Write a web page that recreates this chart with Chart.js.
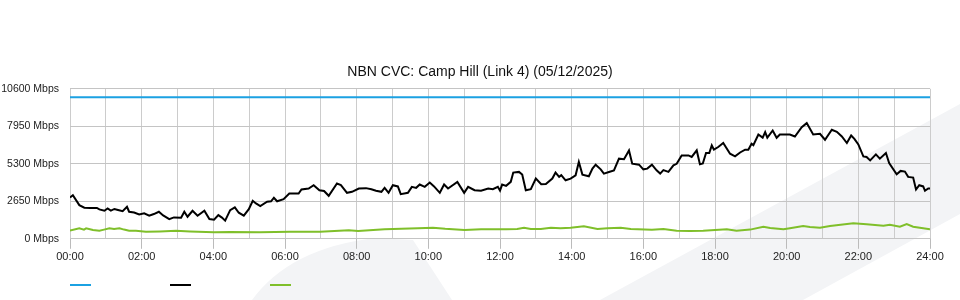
<!DOCTYPE html>
<html>
<head>
<meta charset="utf-8">
<script src="https://cdn.jsdelivr.net/npm/chart.js@4"></script>
<style>
  html, body { margin: 0; padding: 0; background: #fff; }
  #wrap { width: 960px; height: 300px; }
</style>
</head>
<body>
<div id="wrap"><canvas id="cvcChart"></canvas></div>
<script>
  // capacity of the link
  const capacityTimes = [0, 24];
  const capacityMbps = [10000, 10000];

  // black series (hours of day, Mbps)
  const downTimes = [0, 0.08, 0.26, 0.40, 0.56, 0.75, 0.82, 0.96, 1.05, 1.14, 1.24, 1.34, 1.47, 1.59, 1.65,
    1.79, 1.93, 2.07, 2.21, 2.34, 2.48, 2.60, 2.77, 2.90, 3.10, 3.19, 3.28, 3.42, 3.56, 3.75, 3.89,
    4.02, 4.14, 4.24, 4.33, 4.47, 4.60, 4.71, 4.85, 4.99, 5.10, 5.19, 5.31, 5.50, 5.61, 5.69, 5.78,
    5.96, 6.12, 6.38, 6.46, 6.66, 6.80, 6.96, 7.09, 7.22, 7.45, 7.56, 7.73, 7.87, 8.06, 8.26, 8.41,
    8.54, 8.69, 8.78, 8.89, 9.01, 9.15, 9.23, 9.43, 9.54, 9.66, 9.76, 9.90, 10.04, 10.16, 10.32,
    10.44, 10.55, 10.81, 11.00, 11.11, 11.29, 11.47, 11.67, 11.80, 11.94, 12.00, 12.06, 12.17,
    12.30, 12.37, 12.53, 12.62, 12.72, 12.86, 13.00, 13.15, 13.28, 13.46, 13.55, 13.65, 13.71,
    13.83, 13.97, 14.11, 14.20, 14.30, 14.48, 14.58, 14.67, 14.81, 14.90, 15.04, 15.18, 15.32,
    15.46, 15.60, 15.69, 15.88, 16.00, 16.11, 16.24, 16.37, 16.47, 16.56, 16.70, 16.84, 16.93,
    17.07, 17.26, 17.35, 17.49, 17.58, 17.66, 17.75, 17.84, 17.91, 17.97, 18.09, 18.23, 18.42,
    18.56, 18.70, 18.84, 18.93, 19.02, 19.07, 19.21, 19.33, 19.40, 19.46, 19.61, 19.72, 19.81,
    19.91, 20.09, 20.23, 20.42, 20.56, 20.74, 20.93, 21.07, 21.26, 21.40, 21.54, 21.68, 21.80,
    21.89, 22.00, 22.14, 22.23, 22.33, 22.49, 22.60, 22.77, 22.86, 23.07, 23.18, 23.30, 23.39,
    23.53, 23.61, 23.70, 23.81, 23.86, 23.95, 24.00];
  const downMbps = [2919, 3080, 2378, 2195, 2180, 2180, 2075, 1983, 2145, 1990, 2110, 2040, 1955, 2265, 1913,
    1860, 1723, 1800, 1632, 1750, 1913, 1650, 1393, 1510, 1491, 1913, 1561, 1983, 1632, 1983, 1393,
    1350, 1674, 1500, 1280, 2026, 2220, 1843, 1632, 2096, 2687, 2500, 2307, 2617, 2650, 2898, 2650,
    2800, 3200, 3200, 3482, 3552, 3784, 3433, 3380, 3039, 3904, 3800, 3250, 3320, 3552, 3580, 3503,
    3400, 3320, 3601, 3250, 3784, 3700, 3151, 3250, 3672, 3600, 3834, 3672, 3974, 3700, 3250,
    3834, 3552, 4023, 3250, 3672, 3433, 3400, 3552, 3500, 3672, 3400, 3834, 3742,
    4023, 4678, 4727, 4537, 3433, 3503, 4256, 3855, 3870, 4256, 4678, 4375, 4500,
    4136, 4250, 4488, 5430, 4537, 4417, 4959, 5240, 4910, 4607, 4720, 4839, 5662,
    5620, 6246, 5311, 5240, 4910, 4960, 5240, 4839, 4607, 4850, 4727, 5191, 5300,
    5895, 5895, 5782, 6246, 5261, 5320, 6063, 6063, 6598, 6300, 6485, 6767, 6014,
    5824, 6100, 6296, 6296, 6717, 6620, 7372, 7150, 7541, 7150, 7653, 7140, 7372,
    7372, 7372, 7231, 7892, 8174, 7372, 7420, 6999, 7702, 7560, 7231, 6767, 7301,
    7060, 6668, 5824, 5780, 5543, 5965, 5662, 6063, 5360, 4558, 4797, 4750, 4375,
    4326, 3482, 3784, 3700, 3390, 3552, 3552];

  // green series (hours of day, Mbps)
  const upTimes = [0, 0.26, 0.39, 0.45, 0.64, 0.82, 0.95, 1.10, 1.23, 1.38, 1.51, 1.65, 1.84, 2.12, 2.51,
    2.96, 3.35, 4.02, 4.47, 5.30, 6.14, 6.98, 7.78, 8.04, 8.78, 9.71, 10.13, 10.47, 11.01, 11.47,
    12.17, 12.48, 12.67, 12.86, 13.14, 13.42, 13.69, 13.97, 14.34, 14.72, 15.00, 15.37, 15.65,
    16.24, 16.56, 16.93, 17.30, 17.67, 18.33, 18.60, 18.98, 19.35, 19.54, 19.91, 20.09, 20.46,
    20.65, 20.93, 21.21, 21.86, 22.23, 22.70, 22.88, 23.16, 23.35, 23.53, 24.00];
  const upMbps = [577, 739, 650, 739, 620, 577, 650, 739, 690, 739, 650, 577, 577, 506, 520,
    560, 520, 457, 480, 470, 506, 506, 598, 549, 668, 739, 788, 710, 620, 668,
    668, 690, 788, 690, 690, 788, 740, 788, 879, 690, 740, 788, 690,
    647, 690, 577, 560, 577, 668, 577, 650, 858, 760, 668, 739, 900,
    830, 788, 900, 1090, 1020, 929, 1000, 858, 1041, 858, 668];

  const yTicks = [0, 2650, 5300, 7950, 10600];
  const hourTicks = ['00:00', '02:00', '04:00', '06:00', '08:00', '10:00', '12:00',
    '14:00', '16:00', '18:00', '20:00', '22:00', '24:00'];

  const pts = (xs, ys) => xs.map((x, i) => ({ x: x, y: ys[i] }));

  // faint logo shapes behind the chart
  const watermark = {
    id: 'watermark',
    beforeDraw(chart) {
      const c = chart.ctx;
      c.save();
      c.fillStyle = '#f3f4f6';
      c.beginPath();
      c.moveTo(960, 104);
      c.lineTo(600, 300);
      c.lineTo(803, 300);
      c.lineTo(960, 214);
      c.closePath();
      c.fill();
      c.beginPath();
      c.moveTo(252, 300);
      c.quadraticCurveTo(290, 248, 375, 238);
      c.lineTo(413, 240);
      c.lineTo(452, 300);
      c.closePath();
      c.fill();
      c.restore();
    }
  };

  // legend: plain coloured strokes, no text
  const strokeLegend = {
    id: 'strokeLegend',
    afterDraw(chart) {
      const c = chart.ctx;
      const left = chart.chartArea.left;
      c.save();
      c.lineWidth = 2;
      chart.data.datasets.forEach((ds, i) => {
        c.strokeStyle = ds.borderColor;
        c.beginPath();
        c.moveTo(left + i * 100, 285);
        c.lineTo(left + i * 100 + 21, 285);
        c.stroke();
      });
      c.restore();
    }
  };

  Chart.defaults.font.family = '"Liberation Sans", Arial, sans-serif';
  Chart.defaults.color = '#222';

  new Chart(document.getElementById('cvcChart'), {
    type: 'line',
    data: {
      datasets: [
        { label: 'Capacity', data: pts(capacityTimes, capacityMbps), borderColor: '#1ba1e2', borderWidth: 2 },
        { label: 'Down', data: pts(downTimes, downMbps), borderColor: '#000000', borderWidth: 2 },
        { label: 'Up', data: pts(upTimes, upMbps), borderColor: '#7fbf2a', borderWidth: 2 }
      ]
    },
    options: {
      responsive: true,
      maintainAspectRatio: false,
      animation: false,
      parsing: false,
      elements: { point: { radius: 0 }, line: { tension: 0 } },
      layout: { padding: { left: 0, right: 0, top: 0, bottom: 34 } },
      plugins: {
        legend: { display: false },
        tooltip: { enabled: false },
        title: {
          display: true,
          text: 'NBN CVC: Camp Hill (Link 4) (05/12/2025)',
          color: '#111',
          font: { size: 14, weight: 'normal' },
          padding: { top: 64, bottom: 8 }
        }
      },
      scales: {
        x: {
          type: 'linear',
          min: 0,
          max: 24,
          afterBuildTicks: axis => {
            axis.ticks = [];
            for (let h = 0; h <= 24; h++) axis.ticks.push({ value: h });
          },
          ticks: {
            autoSkip: false,
            maxRotation: 0,
            padding: 2,
            font: { size: 11 },
            color: '#222',
            callback: v => (v % 2 === 0 ? hourTicks[v / 2] : '')
          },
          grid: {
            color: '#cccccc',
            tickLength: 10,
            tickColor: ctx => (ctx.tick && ctx.tick.value % 2 === 0 ? '#bbbbbb' : 'rgba(0,0,0,0)')
          },
          border: { color: '#c4c4c4' }
        },
        y: {
          min: 0,
          max: 10600,
          afterBuildTicks: axis => { axis.ticks = yTicks.map(v => ({ value: v })); },
          afterFit: axis => { axis.width = 70; },
          ticks: {
            padding: 11,
            font: { size: 10.5 },
            color: '#222',
            callback: v => v + ' Mbps'
          },
          grid: { color: '#c4c4c4', drawTicks: false },
          border: { display: false }
        },
        // empty right margin so the plot ends at 24:00 while the title stays centred
        yRight: {
          position: 'right',
          min: 0,
          max: 10600,
          afterFit: axis => { axis.width = 30; },
          ticks: { display: false },
          grid: { display: false, drawTicks: false },
          border: { display: false }
        }
      }
    },
    plugins: [watermark, strokeLegend]
  });
</script>
</body>
</html>
